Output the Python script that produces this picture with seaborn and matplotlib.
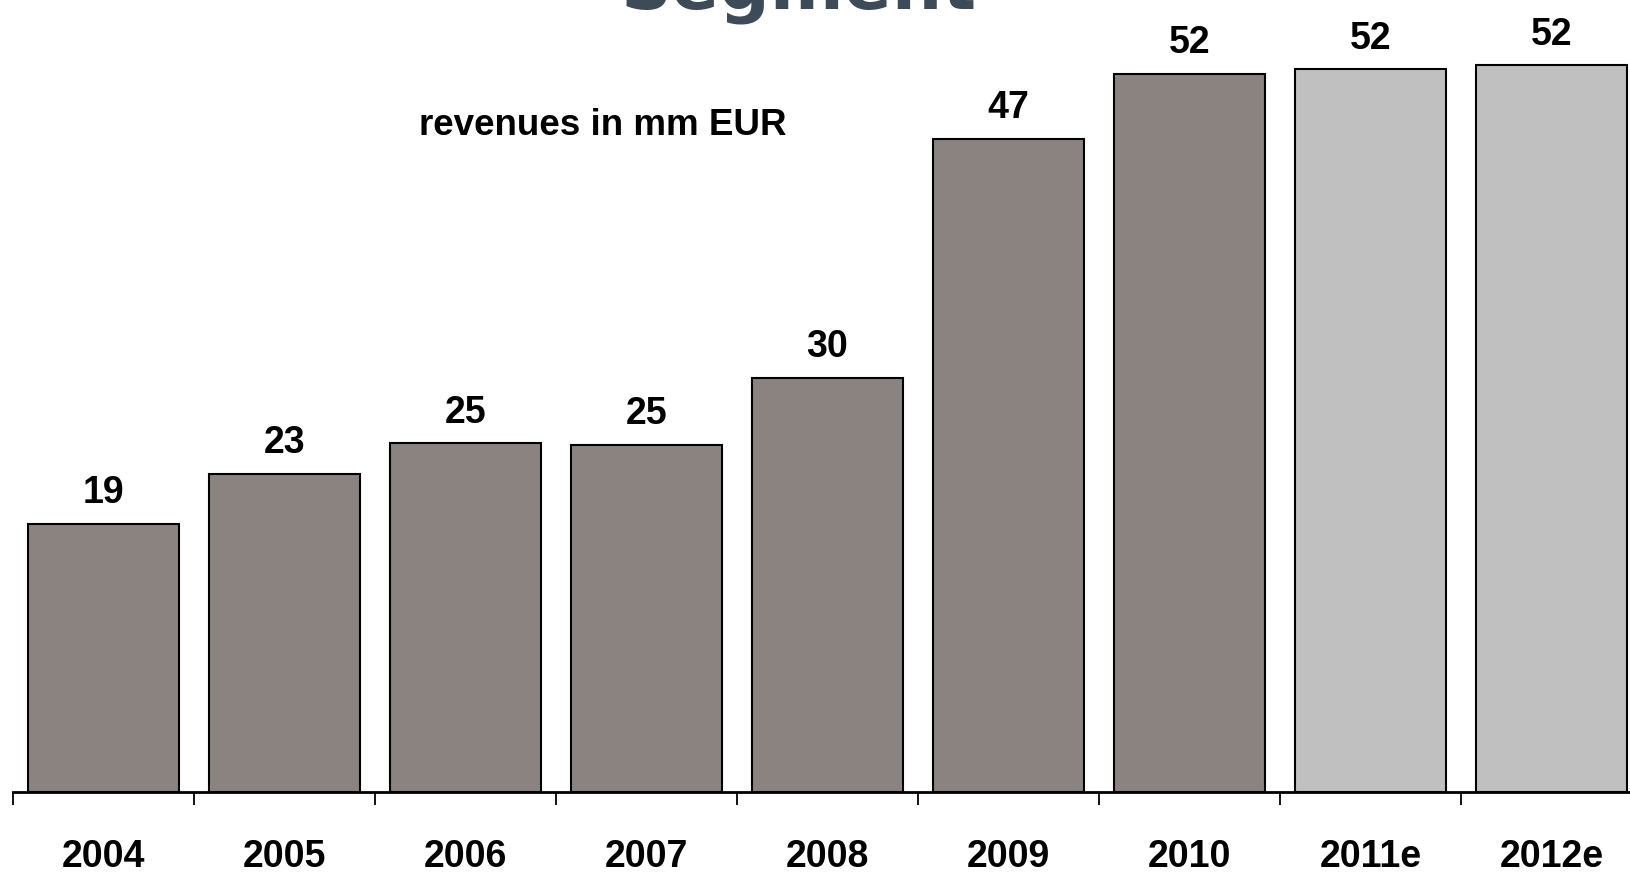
import pandas as pd
import seaborn as sns
import matplotlib.pyplot as plt
from matplotlib.ticker import FixedLocator

# data
years = ['2004', '2005', '2006', '2007', '2008', '2009', '2010', '2011e', '2012e']
revenues = [19.3, 22.9, 25.1, 25.0, 29.8, 47.0, 51.7, 52.0, 52.3]
labels = ['19', '23', '25', '25', '30', '47', '52', '52', '52']
kind = ['actual'] * 7 + ['estimate'] * 2

df = pd.DataFrame({'year': years, 'revenue': revenues, 'kind': kind})

sns.set_theme(style='white')
plt.rcParams['font.family'] = ['Liberation Sans', 'DejaVu Sans']

fig = plt.figure(figsize=(16.3, 8.75), dpi=100)
ax = fig.add_axes([13 / 1630, 83 / 875, 1 - 13 / 1630, 792 / 875])

sns.barplot(data=df, x='year', y='revenue', hue='kind', dodge=False,
            palette={'actual': '#8b827f', 'estimate': '#c0c0c0'},
            edgecolor='black', linewidth=1.5, width=0.83, legend=False, ax=ax)

ax.set_xlim(-0.5, 8.434)
ax.set_ylim(0, 57)

for i, (v, lab) in enumerate(zip(revenues, labels)):
    ax.annotate(lab, (i, v), xytext=(0, 22), textcoords='offset points',
                ha='center', va='center', fontsize=27, fontweight='bold', color='black')

# spines and ticks
for s in ['top', 'right', 'left']:
    ax.spines[s].set_visible(False)
ax.spines['bottom'].set_color('black')
ax.spines['bottom'].set_linewidth(2)
ax.set_yticks([])
ax.set_xlabel('')
ax.set_ylabel('')
ax.xaxis.set_minor_locator(FixedLocator([i - 0.5 for i in range(10)]))
ax.tick_params(axis='x', which='minor', bottom=True, length=9.5, width=1.3, color='black')
ax.tick_params(axis='x', which='major', bottom=True, length=0, pad=34)
for t in ax.get_xticklabels():
    t.set_fontsize(27)
    t.set_fontweight('bold')
    t.set_color('black')

ax.text(0.365, 0.841, 'revenues in mm EUR', transform=ax.transAxes, ha='center', va='center',
        fontsize=26.5, fontweight='bold', color='black')

# title mostly cut off at the top edge, as in the original
fig.text(0.49, 1 - 8 / 875, 'Segment', ha='center', va='baseline',
         fontsize=51, fontweight='heavy', color='#3d4a57', family=['DejaVu Sans'])

fig.savefig('out.png', dpi=100)
